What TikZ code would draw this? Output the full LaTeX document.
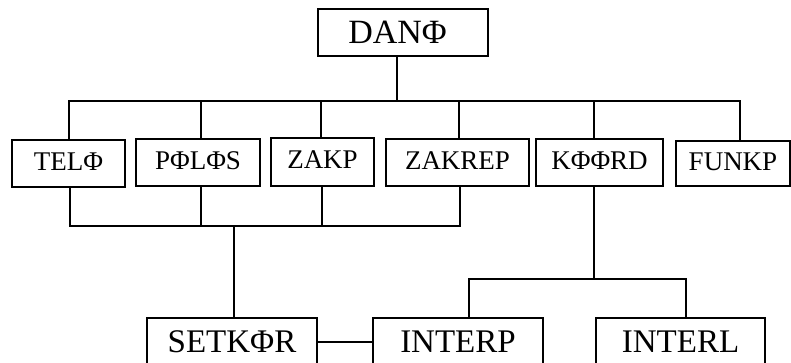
\documentclass[tikz,border=0pt]{standalone}
\usepackage{fontspec}
\setmainfont{Liberation Serif}
\begin{document}
\begin{tikzpicture}[x=1pt,y=-1pt,
  box/.style={draw, line width=1.9pt, rectangle, inner sep=0pt},
  midbox/.style={box, font=\fontsize{27}{30}\selectfont, text height=18pt, text depth=4.5pt},
  bigbox/.style={box, font=\fontsize{33}{36}\selectfont, text height=21.5pt, text depth=0pt},
  conn/.style={line width=1.9pt}]
\useasboundingbox (0,0) rectangle (791,362);
\clip (0,0) rectangle (791,362);
\fill[white] (0,0) rectangle (791,362);
% boxes
\node[bigbox, minimum width=170pt, minimum height=47pt, font=\fontsize{34}{36}\selectfont] (DAN) at (403,32.5) {\hspace*{-11pt}DANΦ};
\node[midbox, minimum width=113pt, minimum height=47pt] (TEL) at (68.5,163.5) {TELΦ};
\node[midbox, minimum width=124pt, minimum height=47pt] (POL) at (198,162.5) {PΦLΦS};
\node[midbox, minimum width=103pt, minimum height=48pt] (ZAKP) at (322.5,162) {ZAKP};
\node[midbox, minimum width=143pt, minimum height=47pt] (ZAKREP) at (457.5,162.5) {ZAKREP};
\node[midbox, minimum width=127pt, minimum height=47pt] (KOORD) at (599.5,162.5) {KΦΦRD};
\node[midbox, minimum width=114pt, minimum height=45pt] (FUNKP) at (733,163.5) {FUNKP};
\node[bigbox, minimum width=170pt, minimum height=48pt] (SETKOR) at (232,342) {SETKΦR};
\node[bigbox, minimum width=170pt, minimum height=48pt] (INTERP) at (458,342) {INTERP};
\node[bigbox, minimum width=169pt, minimum height=48pt] (INTERL) at (680.5,342) {INTERL};
% bus coordinates
\coordinate (t0) at (397,101);
\coordinate (tTEL) at (69,101);
\coordinate (tPOL) at (201,101);
\coordinate (tZAKP) at (321,101);
\coordinate (tZAKREP) at (459,101);
\coordinate (tKOORD) at (594,101);
\coordinate (tFUNKP) at (740,101);
\coordinate (lTEL) at (70,226);
\coordinate (lPOL) at (201,226);
\coordinate (lZAKP) at (322,226);
\coordinate (lZAKREP) at (460,226);
\coordinate (lSET) at (234,226);
\coordinate (kTOP) at (594,279);
\coordinate (kINTERP) at (469,279);
\coordinate (kINTERL) at (686,279);
% top level
\draw[conn] (DAN.south -| t0) -- (t0);
\draw[conn] (TEL.north -| tTEL) -- (tTEL) -- (tFUNKP) -- (FUNKP.north -| tFUNKP);
\draw[conn] (tPOL) -- (POL.north -| tPOL);
\draw[conn] (tZAKP) -- (ZAKP.north -| tZAKP);
\draw[conn] (tZAKREP) -- (ZAKREP.north -| tZAKREP);
\draw[conn] (tKOORD) -- (KOORD.north -| tKOORD);
% lower bus
\draw[conn] (TEL.south -| lTEL) -- (lTEL) -- (lZAKREP) -- (ZAKREP.south -| lZAKREP);
\draw[conn] (POL.south -| lPOL) -- (lPOL);
\draw[conn] (ZAKP.south -| lZAKP) -- (lZAKP);
\draw[conn] (lSET) -- (SETKOR.north -| lSET);
% KOORD branch
\draw[conn] (KOORD.south -| kTOP) -- (kTOP);
\draw[conn] (INTERP.north -| kINTERP) -- (kINTERP) -- (kINTERL) -- (INTERL.north -| kINTERL);
% SETKOR -- INTERP
\draw[conn] (SETKOR.east) -- (INTERP.west);
\end{tikzpicture}
\end{document}
